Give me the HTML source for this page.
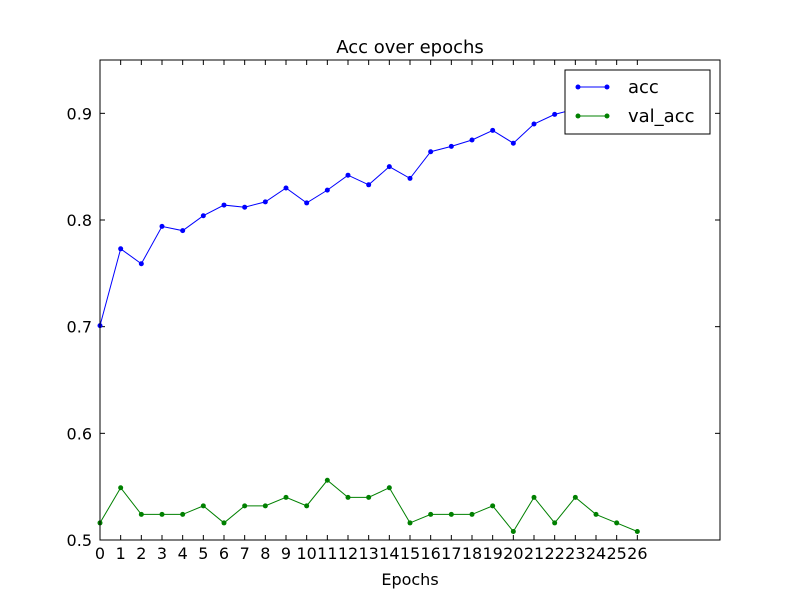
<!DOCTYPE html>
<html><head><meta charset="utf-8"><style>body{margin:0;background:#fff}svg{display:block}text{font-family:"DejaVu Sans","Liberation Sans",sans-serif}</style></head>
<body>
<svg id="c" width="800" height="600" viewBox="0 0 800 600"></svg>
<script>
const epochs=[0,1,2,3,4,5,6,7,8,9,10,11,12,13,14,15,16,17,18,19,20,21,22,23,24,25,26];
const accValues=[0.701,0.773,0.759,0.794,0.790,0.804,0.814,0.812,0.817,0.830,0.816,0.828,0.842,0.833,0.850,0.839,0.864,0.869,0.875,0.884,0.872,0.890,0.899,0.904,0.912,0.920,0.928];
const valAccValues=[0.516,0.549,0.524,0.524,0.524,0.532,0.516,0.532,0.532,0.540,0.532,0.556,0.540,0.540,0.549,0.516,0.524,0.524,0.524,0.532,0.508,0.540,0.516,0.540,0.524,0.516,0.508];
const yTicks=[0.5,0.6,0.7,0.8,0.9];
const yTickLabels=["0.5","0.6","0.7","0.8","0.9"];
const L=100,R=720,T=60,B=540,XMAX=30,YMIN=0.5,YMAX=0.95;
const sx=v=>L+(v/XMAX)*(R-L);
const sy=v=>B-(v-YMIN)/(YMAX-YMIN)*(B-T);
const svg=document.getElementById('c');
const NS='http://www.w3.org/2000/svg';
function mk(tag,attrs,parent){const e=document.createElementNS(NS,tag);for(const k in attrs)e.setAttribute(k,attrs[k]);(parent||svg).appendChild(e);return e;}
let t=mk('text',{x:410,y:53,'text-anchor':'middle','font-size':18});t.textContent='Acc over epochs';


const g=mk('g',{});


epochs.forEach(e=>{const x=sx(e);
mk('line',{x1:x,x2:x,y1:B,y2:B-5,stroke:'#000'},g);mk('line',{x1:x,x2:x,y1:T,y2:T+5,stroke:'#000'},g);
const tt=mk('text',{x:x,y:B+19,'text-anchor':'middle','font-size':16},g);tt.textContent=e;

});
const gy=mk('g',{});


yTicks.forEach((v,i)=>{const y=sy(v);
mk('line',{x1:L,x2:L+5,y1:y,y2:y,stroke:'#000'},gy);mk('line',{x1:R,x2:R-5,y1:y,y2:y,stroke:'#000'},gy);
const tt=mk('text',{x:L-8,y:y+6,'text-anchor':'end','font-size':16},gy);tt.textContent=yTickLabels[i];

});
t=mk('text',{x:410,y:585,'text-anchor':'middle','font-size':16});t.textContent='Epochs';


function series(vals,color,name){const gs=mk('g',{});


mk('polyline',{points:vals.map((v,i)=>sx(epochs[i])+','+sy(v)).join(' '),fill:'none',stroke:color,'stroke-width':1},gs);
vals.forEach((v,i)=>{const c=mk('circle',{cx:sx(epochs[i]),cy:sy(v),r:2.5,fill:color},gs);

});}
series(accValues,'#0000ff','acc-series');
series(valAccValues,'#008000','val-acc-series');
const fr=mk('rect',{x:L,y:T,width:R-L,height:B-T,fill:'none',stroke:'#000'});


const lg=mk('g',{});


mk('rect',{x:565,y:70,width:145,height:64,fill:'#fff',stroke:'#000'},lg);
[['acc','#0000ff',87],['val_acc','#008000',116]].forEach(([n,c,y])=>{
mk('line',{x1:578,x2:608,y1:y,y2:y,stroke:c},lg);mk('circle',{cx:578,cy:y,r:2.5,fill:c},lg);mk('circle',{cx:607,cy:y,r:2.5,fill:c},lg);
const tt=mk('text',{x:628,y:y+6,'font-size':18},lg);tt.textContent=n;

});
</script>
</body></html>
